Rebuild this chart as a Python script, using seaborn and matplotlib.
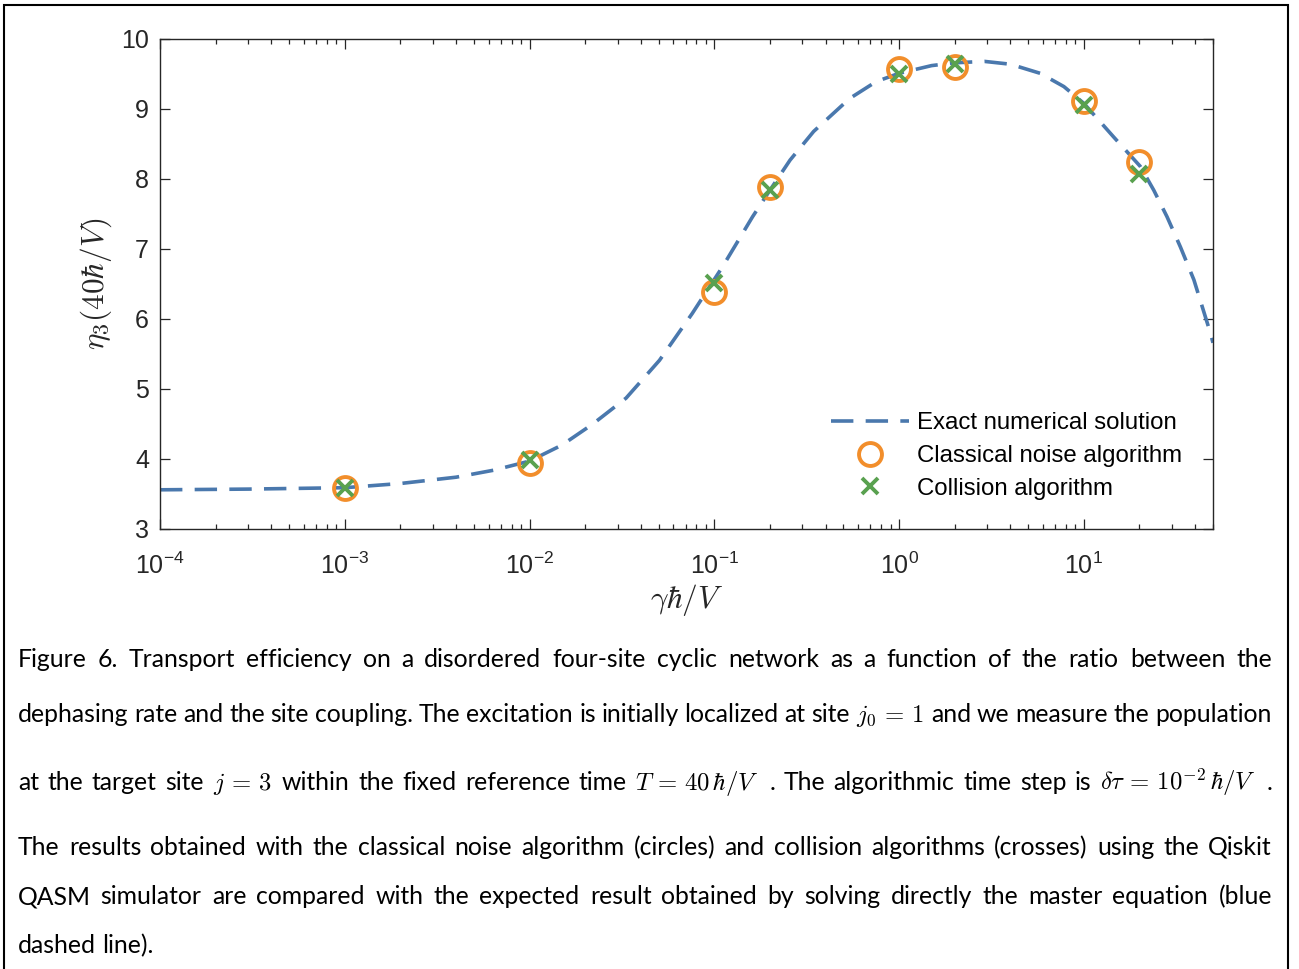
import re
import matplotlib
matplotlib.use("Agg")
import matplotlib.pyplot as plt
import seaborn as sns
from matplotlib.patches import Rectangle
from matplotlib.ticker import LogLocator, NullFormatter, FixedLocator

# ---------------- data ----------------
exact_x = [1e-4, 3e-4, 1e-3, 2e-3, 4e-3, 6.4e-3, 1e-2, 1.5e-2, 2.2e-2, 3.33e-2,
           5.05e-2, 7.6e-2, 0.111, 0.161, 0.2, 0.257, 0.345, 0.54, 0.75, 1.0,
           1.5, 2.0, 2.9, 4.0, 5.8, 7.8, 10.0, 14.5, 20.2, 23.9, 28.2, 33.3,
           39.4, 48.4, 50.0]
exact_y = [3.56, 3.57, 3.59, 3.65, 3.74, 3.84, 3.97, 4.20, 4.50, 4.87,
           5.41, 6.08, 6.75, 7.46, 7.84, 8.27, 8.68, 9.15, 9.39, 9.51,
           9.62, 9.66, 9.68, 9.64, 9.51, 9.32, 9.08, 8.60, 8.18, 7.84, 7.46, 7.03,
           6.56, 5.80, 5.66]

marker_x = [1e-3, 1e-2, 0.1, 0.2, 1.0, 2.0, 10.0, 20.0]
classical_y = [3.59, 3.95, 6.39, 7.89, 9.57, 9.60, 9.12, 8.25]
collision_y = [3.59, 3.99, 6.51, 7.84, 9.50, 9.64, 9.06, 8.07]

legend_labels = ["Exact numerical solution", "Classical noise algorithm",
                 "Collision algorithm"]
x_ticks = [1e-4, 1e-3, 1e-2, 1e-1, 1e0, 1e1]
y_ticks = [3, 4, 5, 6, 7, 8, 9, 10]
x_label = r"$\gamma\hbar/V$"
y_label = r"$\eta_3(40\hbar/V)$"

caption_lines = [
    "Figure 6. Transport efficiency on a disordered four-site cyclic network as a function of the ratio between the",
    r"dephasing rate and the site coupling. The excitation is initially localized at site $j_0 \,=\, 1$ and we measure the population",
    r"at the target site $j \,=\, 3$ within the fixed reference time $T \,=\, 40\,\hbar/V$ . The algorithmic time step is $\delta\tau \,=\, 10^{-2}\,\hbar/V$ .",
    "The results obtained with the classical noise algorithm (circles) and collision algorithms (crosses) using the Qiskit",
    "QASM simulator are compared with the expected result obtained by solving directly the master equation (blue",
    "dashed line).",
]
caption_baselines = [667, 722, 790, 855, 904, 953]

# ---------------- style ----------------
sns.set_style("ticks")
plt.rcParams["font.family"] = ["Liberation Sans", "DejaVu Sans"]
plt.rcParams["mathtext.fontset"] = "cm"
plt.rcParams["axes.unicode_minus"] = False

W, H = 1299, 969
fig = plt.figure(figsize=(W / 100, H / 100), dpi=100)
ax = fig.add_axes([160 / W, 1 - 529 / H, (1213 - 160) / W, (529 - 39) / H])

BLUE = "#4a78ad"
ORANGE = "#f28e2b"
GREEN = "#59a14f"
DARK = "#262626"

sns.lineplot(x=exact_x, y=exact_y, ax=ax, color=BLUE, linewidth=2.6,
             linestyle=(0, (6.2, 3.4)), estimator=None, sort=False,
             label=legend_labels[0])
sns.lineplot(x=marker_x, y=classical_y, ax=ax, color=ORANGE, linestyle="",
             marker="o", markersize=16.5, markerfacecolor="none",
             markeredgecolor=ORANGE, markeredgewidth=2.8, estimator=None,
             label=legend_labels[1])
sns.lineplot(x=marker_x, y=collision_y, ax=ax, color=GREEN, linestyle="",
             marker="x", markersize=11, markeredgecolor=GREEN,
             markeredgewidth=2.8, estimator=None, label=legend_labels[2])

ax.set_xscale("log")
ax.set_xlim(1e-4, 50)
ax.set_ylim(3, 10)
ax.xaxis.set_major_locator(FixedLocator(x_ticks))
ax.xaxis.set_minor_locator(LogLocator(base=10, subs=range(2, 10), numticks=20))
ax.xaxis.set_minor_formatter(NullFormatter())
ax.set_yticks(y_ticks)

for sp in ax.spines.values():
    sp.set_visible(True)
    sp.set_color(DARK)
    sp.set_linewidth(1.0)

ax.tick_params(which="both", direction="in", top=True, right=True,
               color=DARK, width=0.9)
ax.tick_params(which="major", length=7, labelsize=18, labelcolor=DARK)
ax.tick_params(which="minor", length=3.6)
ax.tick_params(axis="x", which="major", pad=17)
ax.tick_params(axis="y", which="major", pad=8)

ax.set_xlabel(x_label, fontsize=22.5, labelpad=2, color=DARK)
ax.set_ylabel(y_label, fontsize=22.5, labelpad=5, color=DARK)

handles, labels = ax.get_legend_handles_labels()
leg = ax.legend(handles, labels, loc="center", bbox_to_anchor=(0.804, 0.149),
                frameon=False, fontsize=17.3, handlelength=3.25,
                handletextpad=0.33, labelspacing=0.45, borderpad=0)
for t in leg.get_texts():
    t.set_color("black")

# ---------------- outer frame ----------------
fig.add_artist(Rectangle((4 / W, -0.05), (1288 - 4) / W, 1 - 5 / H + 0.05,
                         transform=fig.transFigure, fill=False,
                         edgecolor="black", linewidth=1.5, clip_on=False))

# ---------------- justified caption ----------------
renderer = fig.canvas.get_renderer()
CAP_FONT = "Lato"
LEFT, RIGHT = 18, 1272


def tokens_of(line):
    parts = re.split(r"(\$[^$]*\$)", line)
    toks = []
    for p in parts:
        if not p:
            continue
        if p.startswith("$"):
            toks.append(p)
        else:
            toks.extend(p.split())
    return toks


def measure(tok, fs):
    t = fig.text(0, 0, tok, fontsize=fs, family=CAP_FONT)
    w = t.get_window_extent(renderer).width
    t.remove()
    return w


ref_fs = 10.0
tok_lines = [tokens_of(l) for l in caption_lines]
widths10 = [[measure(tk, ref_fs) for tk in tl] for tl in tok_lines]

# font size so that the tightest line fits with a natural word gap
space_em = 0.23
best = 99
for tl, wl in zip(tok_lines[:-1], widths10[:-1]):
    n = len(tl)
    per_pt = sum(wl) / ref_fs + (n - 1) * space_em * 100 / 72
    best = min(best, (RIGHT - LEFT) / per_pt)
fs = min(best, 18.0)

for i, (tl, wl) in enumerate(zip(tok_lines, widths10)):
    ws = [w * fs / ref_fs for w in wl]
    n = len(tl)
    last = i == len(tok_lines) - 1
    if last or n == 1:
        gap = space_em * fs * 100 / 72
    else:
        gap = (RIGHT - LEFT - sum(ws)) / (n - 1)
    x = LEFT
    yb = caption_baselines[i]
    for tk, w in zip(tl, ws):
        fig.text(x / W, 1 - yb / H, tk, fontsize=fs, family=CAP_FONT,
                 ha="left", va="baseline", color="black")
        x += w + gap

fig.savefig("out.png", dpi=100)
